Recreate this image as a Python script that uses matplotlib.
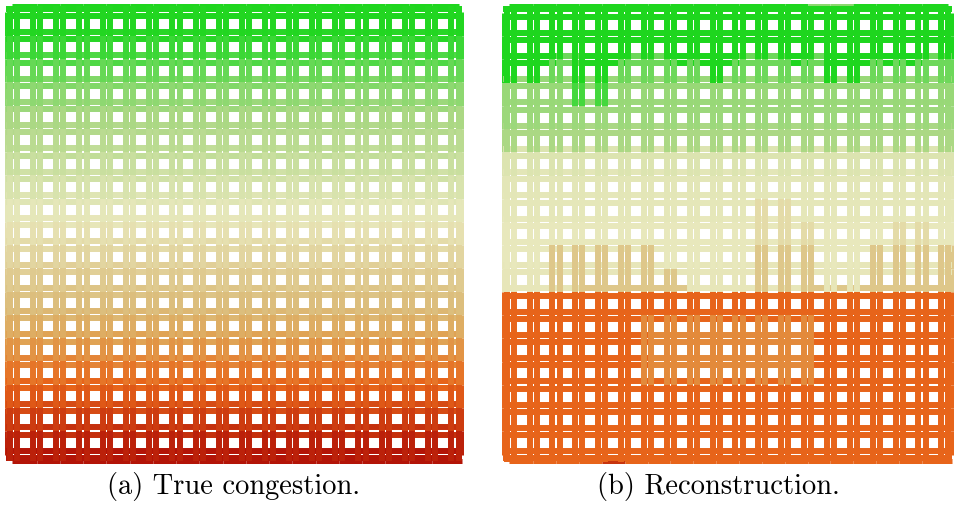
import numpy as np
import matplotlib
matplotlib.use("Agg")
import matplotlib.pyplot as plt
from matplotlib.colors import LinearSegmentedColormap
from matplotlib.collections import LineCollection

N_STREETS = 20

# congestion colour scale (0 = free flow, 1 = heavy congestion)
scale_stops = [0.0, 0.10, 0.26, 0.45, 0.63, 0.73, 0.84, 1.0]
scale_colors = ["#1ed61e", "#4fd846", "#b0d888", "#e8e8bc", "#dcc080",
                "#e0a050", "#e8661a", "#b01006"]

# (a) true congestion: level of each east-west street, top to bottom
true_row_levels = [0.00, 0.02, 0.10, 0.18, 0.23, 0.27, 0.32, 0.37, 0.42, 0.46,
                   0.51, 0.56, 0.61, 0.66, 0.72, 0.78, 0.84, 0.89, 0.94, 0.99]

# (b) reconstruction
recon_row_levels = [0.00, 0.00, 0.15, 0.22, 0.23, 0.25, 0.41, 0.43, 0.44, 0.45,
                    0.45, 0.46, 0.84, 0.84, 0.84, 0.84, 0.84, 0.84, 0.84, 0.84]
recon_green_depth = [3, 3, 2, 4, 4, 2, 2, 2, 2, 3, 2, 2, 2, 2, 3, 3, 2, 2, 2, 2]
recon_row2_green = [0, 1, 3, 4, 7, 8, 9, 12, 14, 15, 16, 17]
recon_tan_top = [12, 12, 10, 10, 10, 10, 10, 11, 12, 12,
                 12, 8, 8, 9, 12, 12, 10, 9, 9, 10]
recon_row12_upper_tan = [3, 4, 5, 6, 7, 13, 14, 15, 16, 17, 18]
recon_top_light = [13, 14]
recon_soft_cols = [6, 13]
recon_soft_rows = [13, 16]
recon_soft_level = 0.77
recon_tan_level = 0.60
recon_faint_tan_level = 0.51
recon_green_level = 0.0
recon_lightgreen_level = 0.20
recon_dark_bottom = [4]
recon_dark_level = 0.93

captions = ["(a) True congestion.", "(b) Reconstruction."]

cmap = LinearSegmentedColormap.from_list("congestion", list(zip(scale_stops, scale_colors)))

# ---------------- build level tables (street, block, lane) ----------------
n = N_STREETS
nb = n - 1

# true
t_rows = np.array(true_row_levels)
true_h = np.repeat(np.tile(t_rows[:, None], (1, nb))[:, :, None], 2, axis=2)
t_gap = (t_rows[:-1] + t_rows[1:]) / 2
true_v = np.repeat(np.tile(t_gap[None, :], (n, 1))[:, :, None], 2, axis=2)
true_border = {
    "top": true_h[0, :, 0].copy(), "bottom": true_h[-1, :, 0].copy(),
    "left": true_v[0, :, 0].copy(), "right": true_v[-1, :, 0].copy(),
}

# reconstruction
r_rows = np.array(recon_row_levels)
rec_h = np.repeat(np.tile(r_rows[:, None], (1, nb))[:, :, None], 2, axis=2)
for k in range(nb):
    if k in recon_row2_green:
        rec_h[2, k, :] = recon_green_level
    rec_h[12, k, 0] = recon_tan_level if k in recon_row12_upper_tan else r_rows[11]
for j in range(recon_soft_rows[0] + 1, recon_soft_rows[1]):
    for k in range(recon_soft_cols[0], recon_soft_cols[1]):
        rec_h[j, k, :] = recon_soft_level

rec_v = np.zeros((n, nb, 2))
for c in range(n):
    for j in range(nb):
        if j < recon_green_depth[c]:
            val = recon_green_level if j < 3 else 0.08
        elif j >= 12:
            val = r_rows[12]
            if (recon_soft_rows[0] <= j < recon_soft_rows[1]
                    and recon_soft_cols[0] <= c <= recon_soft_cols[1]):
                val = recon_soft_level
        elif j >= recon_tan_top[c]:
            val = recon_tan_level if j >= 10 else recon_faint_tan_level
        else:
            val = r_rows[j]
        rec_v[c, j, :] = val

rec_top = rec_h[0, :, 0].copy()
for k in recon_top_light:
    rec_top[k] = recon_lightgreen_level
rec_bottom = rec_h[-1, :, 0].copy()
for k in recon_dark_bottom:
    rec_bottom[k] = recon_dark_level
rec_border = {"top": rec_top, "bottom": rec_bottom,
              "left": rec_v[0, :, 0].copy(), "right": rec_v[-1, :, 0].copy()}

# ---------------- figure ----------------
W, H = 956, 516
fig = plt.figure(figsize=(W / 100, H / 100), dpi=100)

OFF = 0.155     # lane offset from street centre
EXT = 0.30      # lane overhang at the network edge
LANE_W = 4.3    # pt
BORDER_W = 3.6  # pt


def add_panel(px_box, x0, px_x, y0, px_y, hlev, vlev, border):
    l, t, w, h = px_box
    ax = fig.add_axes([l / W, 1 - (t + h) / H, w / W, h / H])
    ax.set_xlim((l - x0) / px_x, (l + w - x0) / px_x)
    ax.set_ylim((t + h - y0) / px_y, (t - y0) / px_y)
    ax.axis("off")

    segs, levs, widths = [], [], []
    # border lines
    for k in range(nb):
        a = k - (0.05 if k == 0 else 0)
        b = k + 1 + (0.15 if k == nb - 1 else 0)
        segs.append([(a, -0.28), (b, -0.28)]); levs.append(border["top"][k])
        b2 = k + 1 + (0.30 if k == nb - 1 else 0)
        segs.append([(a, nb + 0.28), (b2, nb + 0.28)]); levs.append(border["bottom"][k])
        a = k - (0.02 if k == 0 else 0)
        b = k + 1 + (0.03 if k == nb - 1 else 0)
        segs.append([(-0.26, a), (-0.26, b)]); levs.append(border["left"][k])
        segs.append([(nb + 0.27, a), (nb + 0.27, b)]); levs.append(border["right"][k])
    widths += [BORDER_W] * len(segs)

    # east-west lanes
    for j in range(n):
        for k in range(nb):
            a = k - (EXT if k == 0 else 0)
            b = k + 1 + (EXT if k == nb - 1 else 0)
            for li, s in enumerate((-OFF, OFF)):
                segs.append([(a, j + s), (b, j + s)])
                levs.append(hlev[j, k, li]); widths.append(LANE_W)
    # north-south lanes
    for c in range(n):
        for j in range(nb):
            a = j - (EXT if j == 0 else 0)
            b = j + 1 + (EXT if j == nb - 1 else 0)
            for li, s in enumerate((-OFF, OFF)):
                segs.append([(c + s, a), (c + s, b)])
                levs.append(vlev[c, j, li]); widths.append(LANE_W)

    lc = LineCollection(segs, colors=cmap(np.array(levs)), linewidths=widths,
                        capstyle="butt")
    ax.add_collection(lc)
    return ax


add_panel((0, 0, 478, 472), 13.35, 23.25, 12.5, 23.25, true_h, true_v, true_border)
add_panel((478, 0, 478, 472), 510.3, 22.87, 13.0, 23.25, rec_h, rec_v, rec_border)

fig.text(233.5 / W, 1 - 494 / H, captions[0], ha="center", va="baseline",
         fontfamily="cmr10", fontsize=20.5)
fig.text(718 / W, 1 - 494 / H, captions[1], ha="center", va="baseline",
         fontfamily="cmr10", fontsize=20.5)

fig.savefig("out.png", dpi=100)
